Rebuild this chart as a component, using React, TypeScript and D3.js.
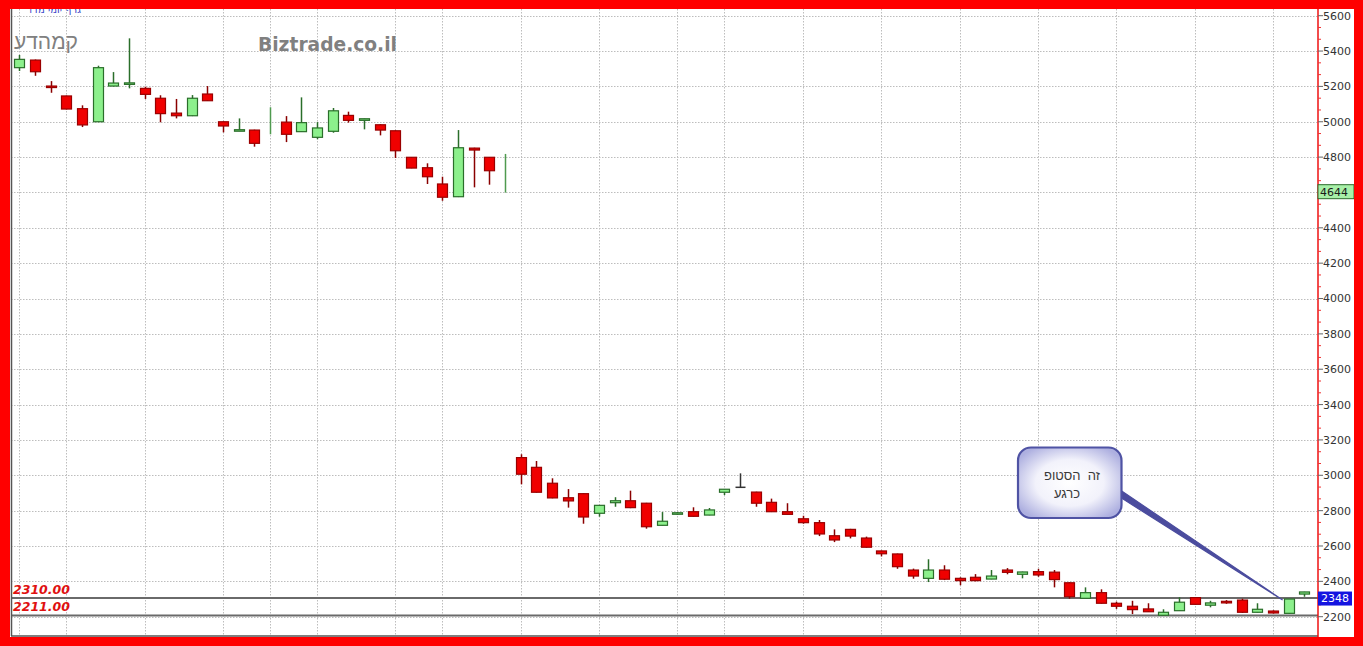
import React from "react";
import * as d3 from "d3";

// OHLC (null open/close = range only)
const opens: (number | null)[] = [
  5306, 5349, 5202, 5146, 5074, 5000, 5202, 5212, 5189, 5133, 5049, 5034, 5157, 5000, 4948, 4953,
  null, 4998, 4944, 4912, 4946, 5036, 5008, 4983, 4949, 4799, 4740, 4648, 4576, 4851, 4799, null,
  3100, 3045, 2955, 2873, 2896, 2785, 2845, 2856, 2842, 2717, 2781, 2794, 2775, 2904, 2932, 2905,
  2847, 2794, 2754, 2732, 2658, 2694, 2645, 2572, 2555, 2464, 2417, 2464, 2417, 2423, 2413, 2464,
  2440, 2455, 2452, 2392, 2304, 2336, 2276, 2259, 2244, 2208, 2234, 2308, 2265, 2287, 2294, 2225,
  2232, 2219, 2328,
];
const highs: number[] = [
  5378, 5352, 5230, 5148, 5093, 5317, 5281, 5472, 5198, 5150, 5129, 5151, 5202, 5002, 5019, 4955,
  5082, 5032, 5138, 4998, 5078, 5057, 5018, 4986, 4951, 4800, 4765, 4689, 4953, 4853, 4800, 4818,
  3119, 3081, 2983, 2922, 2898, 2832, 2876, 2913, 2844, 2792, 2792, 2819, 2815, 2922, 3011, 2907,
  2868, 2842, 2771, 2747, 2694, 2697, 2653, 2574, 2557, 2472, 2525, 2491, 2423, 2441, 2464, 2475,
  2455, 2471, 2464, 2395, 2366, 2355, 2285, 2290, 2276, 2242, 2310, 2310, 2290, 2294, 2302, 2276,
  2236, 2300, 2341,
];
const lows: number[] = [
  5287, 5260, 5164, 5070, 4970, 4998, 5200, 5189, 5129, 4997, 5019, 5032, 5118, 4940, 4947, 4859,
  4929, 4885, 4942, 4901, 4938, 4995, 4957, 4923, 4795, 4737, 4648, 4553, 4574, 4629, 4644, 4599,
  2949, 2902, 2870, 2817, 2726, 2766, 2822, 2814, 2698, 2716, 2776, 2766, 2774, 2888, 2932, 2822,
  2792, 2778, 2726, 2656, 2622, 2643, 2591, 2541, 2471, 2415, 2396, 2407, 2378, 2400, 2412, 2440,
  2417, 2426, 2366, 2302, 2303, 2274, 2244, 2215, 2227, 2207, 2233, 2268, 2253, 2273, 2221, 2224,
  2218, 2218, 2313,
];
const closes: (number | null)[] = [
  5353, 5283, 5196, 5072, 4982, 5306, 5219, 5220, 5155, 5046, 5034, 5133, 5119, 4976, 4955, 4878,
  null, 4929, 4995, 4965, 5062, 5008, 5017, 4953, 4836, 4738, 4689, 4573, 4853, 4840, 4723, null,
  3006, 2904, 2872, 2855, 2764, 2830, 2856, 2817, 2709, 2740, 2788, 2768, 2804, 2921, 2932, 2842,
  2794, 2779, 2732, 2668, 2634, 2656, 2593, 2556, 2483, 2430, 2464, 2412, 2404, 2404, 2430, 2451,
  2453, 2436, 2410, 2313, 2336, 2276, 2259, 2240, 2228, 2225, 2282, 2270, 2278, 2278, 2225, 2242,
  2221, 2300, 2340,
];

const yTicks = [2200, 2400, 2600, 2800, 3000, 3200, 3400, 3600, 3800, 4000, 4200, 4400, 4600, 4800, 5000, 5200, 5400, 5600];
const yTickLabels = ["2200", "2400", "2600", "2800", "3000", "3200", "3400", "3600", "3800", "4000", "4200", "4400", "", "4800", "5000", "5200", "5400", "5600"];
const gridIdx = [0, 3, 8, 13, 16, 19, 24, 27, 32, 37, 42, 45, 50, 55, 60, 65, 70, 75, 80];
const levelValues = [2310, 2211];
const levelLabels = ["2310.00", "2211.00"];
const tagValues = [4644, 2348];
const tagLabels = ["4644", "2348"];
const watermarkLeft = "קמהדע";
const watermarkSite = "Biztrade.co.il";
const noteLines = ["זה\u00A0\u00A0הסטופ", "כרגע"];
const noteTarget = 81;

export default function App() {
  const W = 1363;
  const H = 646;
  const plotL = 11;
  const plotR = 1318;
  const plotT = 9;
  const plotB = 636;

  const x = d3.scaleLinear().domain([0, opens.length - 1]).range([19.3, 1304.3]);
  const y = d3.scaleLinear().domain([2200, 5600]).range([616.7, 15.7]);

  const minor: number[] = [];
  yTicks.forEach((t, i) => {
    if (i < yTicks.length - 1) {
      const step = (yTicks[i + 1] - t) / 3;
      minor.push(t + step, t + 2 * step);
    }
  });

  const bw = 10;
  const candles = opens.map((o, i) => {
    const c = closes[i];
    const cx = Math.round(x(i)) + 0.5;
    const hi = y(highs[i]);
    const lo = y(lows[i]);
    if (o === null || c === null) {
      return (
        <line key={i} x1={cx} x2={cx} y1={hi} y2={lo} stroke="#4f9a4f" strokeWidth={1.5} />
      );
    }
    if (o === c) {
      return (
        <g key={i}>
          <line x1={cx} x2={cx} y1={hi} y2={lo} stroke="#333" strokeWidth={1.5} />
          <line x1={cx - bw / 2} x2={cx + bw / 2} y1={y(o)} y2={y(o)} stroke="#333" strokeWidth={1.5} />
        </g>
      );
    }
    const up = c > o;
    const top = y(Math.max(o, c));
    const bot = y(Math.min(o, c));
    const hgt = Math.max(1.5, bot - top);
    return (
      <g key={i}>
        <line x1={cx} x2={cx} y1={hi} y2={lo} stroke={up ? "#2a6e2a" : "#8a0000"} strokeWidth={1.5} />
        <rect
          x={cx - bw / 2}
          y={top}
          width={bw}
          height={hgt}
          fill={up ? "#8cf08c" : "#f00000"}
          stroke={up ? "#2a6e2a" : "#9a0000"}
          strokeWidth={1.2}
        />
      </g>
    );
  });

  const tipX = x(noteTarget) - 6;
  const tipY = y(2300) + 1;

  return (
    <svg
      width={W}
      height={H}
      style={{ position: "absolute", left: 0, top: 0, display: "block" }}
      fontFamily="'DejaVu Sans', Verdana, sans-serif"
    >
      <defs>
        <radialGradient id="noteFill" cx="50%" cy="50%" r="60%">
          <stop offset="0%" stopColor="#ffffff" />
          <stop offset="55%" stopColor="#f2f2fb" />
          <stop offset="100%" stopColor="#aeb0e0" />
        </radialGradient>
      </defs>
      <rect x={0} y={0} width={W} height={H} fill="#ff0000" />
      <rect x={10} y={9} width={1344} height={628} fill="#ffffff" />

      {/* small blue caption, mostly hidden under frame */}
      <text x={27} y={13} fontSize={10} fill="#3a44c8">גרף יומי מדד</text>

      {/* grid */}
      {yTicks.map((t) => (
        <line key={"h" + t} x1={plotL} x2={plotR} y1={Math.round(y(t)) + 0.5} y2={Math.round(y(t)) + 0.5}
          stroke="#bdbdbd" strokeWidth={1} strokeDasharray="1.5,1.5" />
      ))}
      {gridIdx.map((g) => (
        <line key={"v" + g} x1={Math.round(x(g)) + 0.5} x2={Math.round(x(g)) + 0.5} y1={plotT} y2={plotB}
          stroke="#bdbdbd" strokeWidth={1} strokeDasharray="1.5,1.5" />
      ))}

      {/* watermarks */}
      <text x={14} y={49} fontSize={21} fill="#808080" fontFamily="'Liberation Sans', Arial, sans-serif">
        {watermarkLeft}
      </text>
      <text x={258} y={51} fontSize={19} fontWeight="bold" fill="#808080" textLength={139} lengthAdjust="spacingAndGlyphs">
        {watermarkSite}
      </text>

      {/* level lines */}
      {levelValues.map((v, i) => (
        <g key={"l" + v}>
          <line x1={plotL} x2={plotR} y1={y(v) + 0.8} y2={y(v) + 0.8} stroke="#6a6a6a" strokeWidth={2} />
          <text x={13} y={y(v) - 3.5} fontSize={12.5} fontWeight="bold" fontStyle="italic" fill="#e01010">
            {levelLabels[i]}
          </text>
        </g>
      ))}

      {/* candles */}
      {candles}

      {/* callout */}
      <polygon points={`1118,488.5 ${tipX},${tipY} 1119,496.5`} fill="#4b4c9e" stroke="#4b4c9e" strokeWidth={1.2} />
      <rect x={1018} y={447.5} width={103.5} height={70.5} rx={13} ry={13}
        fill="url(#noteFill)" stroke="#4f53a4" strokeWidth={2.2} />
      <text x={1072} y={479.5} fontSize={13} textAnchor="middle" fill="#3a3a3a"
        fontFamily="'Liberation Sans', Arial, sans-serif">{noteLines[0]}</text>
      <text x={1067} y={497.5} fontSize={13} textAnchor="middle" fill="#3a3a3a"
        fontFamily="'Liberation Sans', Arial, sans-serif">{noteLines[1]}</text>

      {/* plot frame */}
      <line x1={11.5} x2={11.5} y1={plotT} y2={plotB} stroke="#555" strokeWidth={1.5} />
      <line x1={11} x2={plotR} y1={plotB} y2={plotB} stroke="#555" strokeWidth={1.5} />

      {/* right axis */}
      <line x1={plotR} x2={plotR} y1={plotT} y2={plotB + 1} stroke="#ee1111" strokeWidth={1.5} />
      {minor.map((m) => (
        <line key={"m" + m} x1={plotR} x2={plotR + 3} y1={y(m)} y2={y(m)} stroke="#ee3333" strokeWidth={1} />
      ))}
      {yTicks.map((t, i) => (
        <g key={"t" + t}>
          <line x1={plotR} x2={plotR + 5} y1={y(t)} y2={y(t)} stroke="#666" strokeWidth={1} />
          <text x={1323} y={y(t)} dy="0.36em" fontSize={11} fill="#333">{yTickLabels[i]}</text>
        </g>
      ))}

      {/* price tags */}
      <rect x={1318} y={y(tagValues[0])} width={36} height={14} fill="#a8f0a8" stroke="#2d6d2d" strokeWidth={1} />
      <text x={1320} y={y(tagValues[0]) + 7} dy="0.36em" fontSize={11} fill="#1a1a1a">{tagLabels[0]}</text>
      <rect x={1318} y={y(tagValues[1]) + 1} width={34} height={14} fill="#1414e0" />
      <text x={1321} y={y(tagValues[1]) + 8} dy="0.36em" fontSize={11} fill="#ffffff">{tagLabels[1]}</text>

      {/* red frame on top */}
      <rect x={0} y={0} width={W} height={9} fill="#ff0000" />
      <rect x={0} y={0} width={10} height={H} fill="#ff0000" />
      <rect x={1354} y={0} width={9} height={H} fill="#ff0000" />
      <rect x={0} y={637} width={W} height={9} fill="#ff0000" />
    </svg>
  );
}
